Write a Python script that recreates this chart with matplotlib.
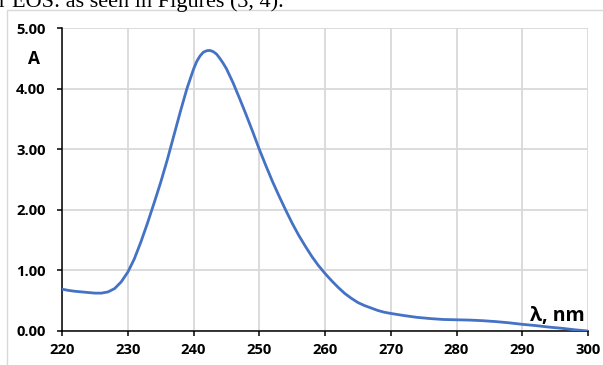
import matplotlib
matplotlib.use("Agg")
import matplotlib.pyplot as plt
from matplotlib.patches import Rectangle

# UV absorption spectrum
wavelength = [220, 221, 222, 223, 224, 225, 226, 227, 228, 229,
              230, 231, 232, 233, 234, 235, 236, 237, 238, 239,
              240, 240.5, 241, 241.5, 242, 242.5, 243, 243.5, 244, 244.5,
              245, 246, 247, 248, 249,
              250, 251, 252, 253, 254, 255, 256, 257, 258, 259,
              260, 261, 262, 263, 264, 265, 266, 267, 268, 269,
              270, 272, 274, 276, 278, 280, 282, 284, 286, 288,
              290, 292, 294, 296, 298, 300]
absorbance = [0.69, 0.67, 0.655, 0.645, 0.635, 0.625, 0.625, 0.645, 0.70, 0.81,
              0.97, 1.19, 1.47, 1.78, 2.11, 2.45, 2.82, 3.22, 3.62, 4.00,
              4.32, 4.45, 4.54, 4.60, 4.625, 4.63, 4.61, 4.57, 4.50, 4.42,
              4.33, 4.10, 3.84, 3.57, 3.29,
              3.00, 2.73, 2.47, 2.23, 2.00, 1.78, 1.58, 1.40, 1.23, 1.08,
              0.95, 0.83, 0.72, 0.62, 0.54, 0.47, 0.42, 0.38, 0.34, 0.31,
              0.29, 0.255, 0.225, 0.205, 0.19, 0.185, 0.18, 0.17, 0.155, 0.135,
              0.11, 0.09, 0.065, 0.045, 0.02, 0.0]

x_ticks = [220, 230, 240, 250, 260, 270, 280, 290, 300]
y_ticks = [0, 1, 2, 3, 4, 5]

W, H = 603, 365
LINE = "#4472C4"
GRID = "#d9d9d9"
FONT = "Open Sans"

fig = plt.figure(figsize=(W / 100, H / 100), dpi=100)
fig.patch.set_facecolor("white")

# caption text from the page above, cut off at the top like the reference
fig.text(-0.002, 1 - 7.5 / H, "r EOS: as seen in Figures (3, 4).",
         family="Liberation Serif", fontsize=16, va="baseline", ha="left")

# chart frame (cropped at right and bottom)
fig.patches.append(Rectangle((7 / W, -0.1), 1.2, 1.1 - 10 / H,
                             transform=fig.transFigure, fill=False,
                             edgecolor=GRID, linewidth=1.0))

left, right, top, bottom = 62, 588, 28, 331
ax = fig.add_axes([left / W, 1 - bottom / H, (right - left) / W, (bottom - top) / H])

ax.plot(wavelength, absorbance, color=LINE, linewidth=2.0,
        solid_capstyle="round", solid_joinstyle="round", zorder=3)

ax.set_xlim(220, 300)
ax.set_ylim(0, 5)
ax.set_xticks(x_ticks)
ax.set_yticks(y_ticks)
ax.set_xticklabels([str(v) for v in x_ticks])
ax.set_yticklabels([f"{v:.2f}" for v in y_ticks])

for lbl in ax.get_xticklabels() + ax.get_yticklabels():
    lbl.set_family(FONT)
    lbl.set_fontweight("bold")
    lbl.set_fontsize(10.6)

ax.grid(True, color=GRID, linewidth=1.3)
ax.set_axisbelow(True)
for side in ("top", "right"):
    ax.spines[side].set_visible(False)
for side in ("left", "bottom"):
    ax.spines[side].set_color("black")
    ax.spines[side].set_linewidth(1.1)

ax.tick_params(axis="y", direction="out", length=3.4, width=1.1, pad=8.5)
ax.tick_params(axis="x", direction="out", length=3.4, width=1.1, pad=5.5)

# axis titles placed like the Excel chart
fig.text(34 / W, 1 - 58.5 / H, "A", family=FONT, fontweight="bold",
         fontsize=12.5, ha="center", va="center")
fig.text(585 / W, 1 - 321 / H, "λ, nm", family=FONT, fontweight="bold",
         fontsize=14, ha="right", va="baseline")

fig.savefig("out.png", dpi=100, facecolor="white")
